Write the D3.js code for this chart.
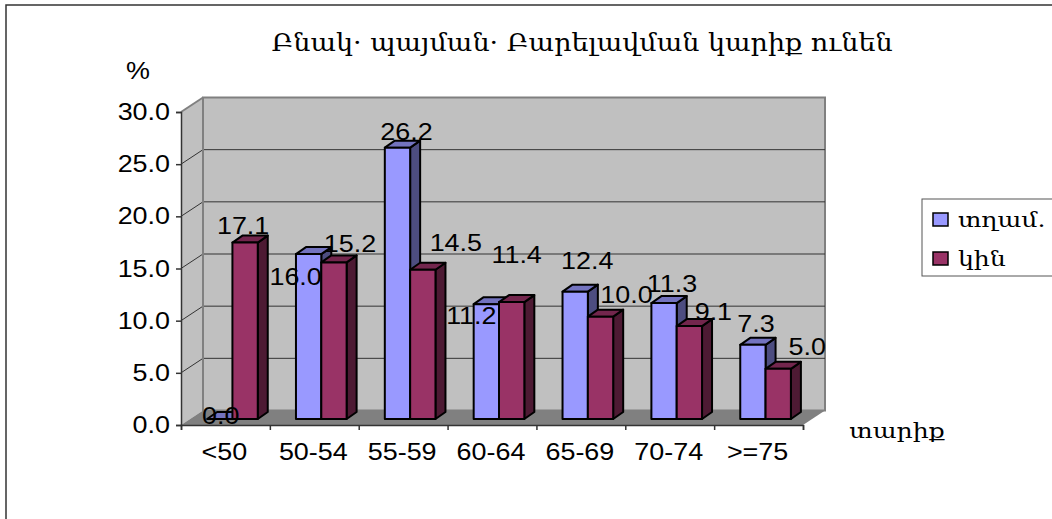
<!DOCTYPE html>
<html>
<head>
<meta charset="utf-8">
<script src="https://cdn.jsdelivr.net/npm/d3@7"></script>
<style>
  html, body { margin: 0; padding: 0; background: #fff; }
  svg { display: block; }
  text { fill: #000; }
  .num { font-family: "Liberation Sans", Arial, sans-serif; font-size: 23px; }
  .arm { font-family: "DejaVu Serif", serif; }
</style>
</head>
<body>
<div id="chart"></div>
<script>
const categories = ['<50', '50-54', '55-59', '60-64', '65-69', '70-74', '>=75'];
const men = [0.0, 16.0, 26.2, 11.2, 12.4, 11.3, 7.3];
const women = [17.1, 15.2, 14.5, 11.4, 10.0, 9.1, 5.0];
const yTicks = [0, 5, 10, 15, 20, 25, 30];
const seriesNames = ['տղամ.', 'կին'];
const titleText = 'Բնակ· պայման· Բարելավման կարիք ունեն';

// hand placed label nudges, [dx, dy] from the default spot above each bar
const menNudge = [[-6, 14], [-20, 42], [2, 3], [-22, 31], [5, -12], [1, 0], [-4, -2]];
const womenNudge = [[-9, 2], [9, 1], [26, -8], [-2, -28], [19, -3], [17, 5], [22, -3]];

const width = 1052, height = 519;
const stretch = 1.17; // the picture is wider than it is tall, so is its text
const depth = { x: 22, y: 14.5 };
const barDepth = { x: 10, y: 7 };
const barOffset = { x: 7, y: 6 };

const svg = d3.select('#chart').append('svg')
  .attr('width', width)
  .attr('height', height);

const xScale = d3.scaleBand()
  .domain(categories)
  .range([181, 803])
  .paddingInner(0.43)
  .paddingOuter(0.215);

const seriesScale = d3.scaleBand()
  .domain([0, 1])
  .range([0, xScale.bandwidth()]);

const yScale = d3.scaleLinear()
  .domain([0, 30])
  .range([425, 112]);

function stretchedText(x, y, str, cls, anchor) {
  return svg.append('text')
    .attr('class', cls)
    .attr('text-anchor', anchor || 'middle')
    .attr('transform', `translate(${x},${y}) scale(${stretch},1)`)
    .text(str);
}

// Outer frame
svg.append('rect')
  .attr('x', 6).attr('y', 5)
  .attr('width', width).attr('height', height)
  .attr('fill', '#fff')
  .attr('stroke', '#333')
  .attr('stroke-width', 1.5);

const [x0, x1] = [181, 803];
const yBase = yScale(0), yTop = yScale(30);

// Side wall
svg.append('path')
  .attr('d', `M${x0},${yBase}L${x0},${yTop}L${x0 + depth.x},${yTop - depth.y}L${x0 + depth.x},${yBase - depth.y}Z`)
  .attr('fill', '#c0c0c0');

// Back wall
svg.append('rect')
  .attr('x', x0 + depth.x).attr('y', yTop - depth.y)
  .attr('width', x1 - x0).attr('height', yBase - yTop)
  .attr('fill', '#c0c0c0')
  .attr('stroke', '#808080')
  .attr('stroke-width', 2);

// Floor
svg.append('path')
  .attr('d', `M${x0},${yBase}L${x1},${yBase}L${x1 + depth.x},${yBase - depth.y}L${x0 + depth.x},${yBase - depth.y}Z`)
  .attr('fill', '#808080');

// Gridlines along the wall
yTicks.slice(1, -1).forEach((t) => {
  const y = yScale(t);
  svg.append('path')
    .attr('d', `M${x0},${y}L${x0 + depth.x},${y - depth.y}L${x1 + depth.x},${y - depth.y}`)
    .attr('fill', 'none')
    .attr('stroke', '#333')
    .attr('stroke-width', 1);
});
svg.append('line')
  .attr('x1', x0).attr('y1', yTop)
  .attr('x2', x0 + depth.x).attr('y2', yTop - depth.y)
  .attr('stroke', '#808080').attr('stroke-width', 2);
svg.append('line')
  .attr('x1', x0 + depth.x).attr('y1', yBase - depth.y)
  .attr('x2', x0 + depth.x).attr('y2', yTop - depth.y)
  .attr('stroke', '#808080').attr('stroke-width', 2);

// Bars, each group left to right
function drawBar(cat, value, idx, colors) {
  const left = xScale(cat) + seriesScale(idx) + barOffset.x;
  const w = seriesScale.bandwidth();
  const bottom = yBase - barOffset.y;
  const top = Math.min(bottom, yScale(value) - barOffset.y + 2);
  const g = svg.append('g')
    .attr('stroke', '#000')
    .attr('stroke-width', 2)
    .attr('stroke-linejoin', 'round');
  g.append('path')
    .attr('d', `M${left + w},${top}L${left + w + barDepth.x},${top - barDepth.y}L${left + w + barDepth.x},${bottom - barDepth.y}L${left + w},${bottom}Z`)
    .attr('fill', colors.side);
  g.append('path')
    .attr('d', `M${left},${top}L${left + barDepth.x},${top - barDepth.y}L${left + w + barDepth.x},${top - barDepth.y}L${left + w},${top}Z`)
    .attr('fill', colors.top);
  g.append('rect')
    .attr('x', left).attr('y', top)
    .attr('width', w).attr('height', bottom - top)
    .attr('fill', colors.front);
}

const menColors = { front: '#9999ff', top: '#7373bf', side: '#4d4d80' };
const womenColors = { front: '#993366', top: '#73264d', side: '#4d1a33' };

categories.forEach((c, i) => {
  drawBar(c, men[i], 0, menColors);
  drawBar(c, women[i], 1, womenColors);
});

// Value labels
function drawLabels(values, idx, nudges) {
  values.forEach((v, i) => {
    const cx = xScale(categories[i]) + seriesScale(idx) + seriesScale.bandwidth() / 2 + 9 + barDepth.x / 2;
    const base = yScale(v) - barOffset.y - barDepth.y - 2;
    stretchedText(cx + nudges[i][0], base + nudges[i][1], v.toFixed(1), 'num');
  });
}
drawLabels(men, 0, menNudge);
drawLabels(women, 1, womenNudge);

// Y axis
const yAxis = d3.axisLeft(yScale).tickValues(yTicks).tickSize(5).tickFormat('');
svg.append('g')
  .attr('transform', `translate(${x0},0)`)
  .call(yAxis)
  .call((g) => g.selectAll('path,line').attr('stroke', '#333').attr('stroke-width', 1.5));
yTicks.forEach((t) => {
  stretchedText(x0 - 11, yScale(t) + 8, t.toFixed(1), 'num', 'end');
});

// X axis
const xEdges = d3.scaleLinear().domain([0, categories.length]).range([x0, x1]);
svg.append('g')
  .attr('transform', `translate(0,${yBase})`)
  .call(d3.axisBottom(xEdges).ticks(categories.length).tickSize(5).tickFormat(''))
  .call((g) => g.selectAll('path,line').attr('stroke', '#333').attr('stroke-width', 1.5));
categories.forEach((c, i) => {
  stretchedText((xEdges(i) + xEdges(i + 1)) / 2 - 1, 460, c, 'num');
});

// Titles
stretchedText(138, 79, '%', 'num');
svg.append('text').attr('class', 'arm')
  .attr('text-anchor', 'middle')
  .attr('font-size', 25)
  .attr('transform', 'translate(582,51) scale(1.08,1)')
  .text(titleText);
svg.append('text').attr('class', 'arm')
  .attr('text-anchor', 'middle')
  .attr('font-size', 21)
  .attr('transform', 'translate(897,438) scale(1.2,1)')
  .text('տարիք');

// Legend
svg.append('rect')
  .attr('x', 922).attr('y', 199)
  .attr('width', 140).attr('height', 77)
  .attr('fill', '#fff')
  .attr('stroke', '#555')
  .attr('stroke-width', 1);
seriesNames.forEach((name, i) => {
  const y = 213 + i * 39;
  svg.append('rect')
    .attr('x', 933).attr('y', y)
    .attr('width', 15).attr('height', 13)
    .attr('fill', i ? womenColors.front : menColors.front)
    .attr('stroke', '#000')
    .attr('stroke-width', 1.5);
  svg.append('text').attr('class', 'arm')
    .attr('font-size', 21)
    .attr('transform', `translate(958,${y + 14}) scale(1.2,1)`)
    .text(name);
});
</script>
</body>
</html>
